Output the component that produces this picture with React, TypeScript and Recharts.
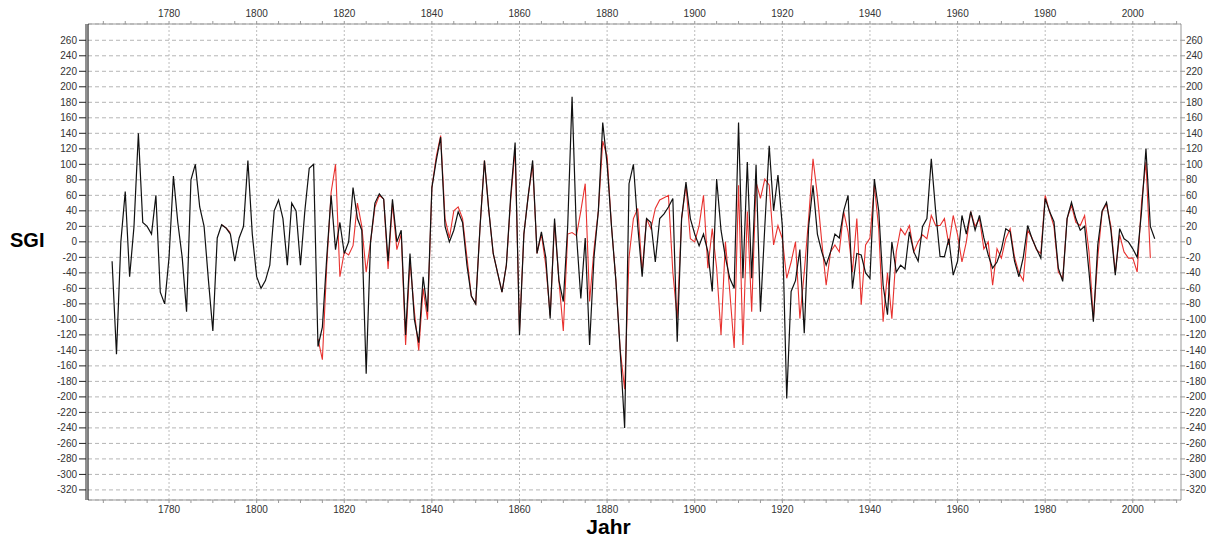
import {
  CartesianGrid,
  Line,
  LineChart,
  ReferenceLine,
  XAxis,
  YAxis,
} from 'recharts'

// years 1767..2005, one value per year
const YEARS = [
  1767, 1768, 1769, 1770, 1771, 1772, 1773, 1774, 1775, 1776, 1777, 1778, 1779, 1780, 1781, 1782, 1783, 1784, 1785, 1786,
  1787, 1788, 1789, 1790, 1791, 1792, 1793, 1794, 1795, 1796, 1797, 1798, 1799, 1800, 1801, 1802, 1803, 1804, 1805, 1806,
  1807, 1808, 1809, 1810, 1811, 1812, 1813, 1814, 1815, 1816, 1817, 1818, 1819, 1820, 1821, 1822, 1823, 1824, 1825, 1826,
  1827, 1828, 1829, 1830, 1831, 1832, 1833, 1834, 1835, 1836, 1837, 1838, 1839, 1840, 1841, 1842, 1843, 1844, 1845, 1846,
  1847, 1848, 1849, 1850, 1851, 1852, 1853, 1854, 1855, 1856, 1857, 1858, 1859, 1860, 1861, 1862, 1863, 1864, 1865, 1866,
  1867, 1868, 1869, 1870, 1871, 1872, 1873, 1874, 1875, 1876, 1877, 1878, 1879, 1880, 1881, 1882, 1883, 1884, 1885, 1886,
  1887, 1888, 1889, 1890, 1891, 1892, 1893, 1894, 1895, 1896, 1897, 1898, 1899, 1900, 1901, 1902, 1903, 1904, 1905, 1906,
  1907, 1908, 1909, 1910, 1911, 1912, 1913, 1914, 1915, 1916, 1917, 1918, 1919, 1920, 1921, 1922, 1923, 1924, 1925, 1926,
  1927, 1928, 1929, 1930, 1931, 1932, 1933, 1934, 1935, 1936, 1937, 1938, 1939, 1940, 1941, 1942, 1943, 1944, 1945, 1946,
  1947, 1948, 1949, 1950, 1951, 1952, 1953, 1954, 1955, 1956, 1957, 1958, 1959, 1960, 1961, 1962, 1963, 1964, 1965, 1966,
  1967, 1968, 1969, 1970, 1971, 1972, 1973, 1974, 1975, 1976, 1977, 1978, 1979, 1980, 1981, 1982, 1983, 1984, 1985, 1986,
  1987, 1988, 1989, 1990, 1991, 1992, 1993, 1994, 1995, 1996, 1997, 1998, 1999, 2000, 2001, 2002, 2003, 2004, 2005,
]

// black curve (long record)
const SGI_BLACK = [
  -25, -145, 0, 65, -45, 20, 140, 25, 20, 10, 60, -65, -80, -20, 85, 25, -20, -90, 80, 100,
  45, 20, -50, -115, 5, 22, 18, 10, -25, 5, 20, 105, 10, -45, -60, -50, -30, 40, 54, 30,
  -30, 50, 40, -30, 40, 95, 100, -135, -110, -20, 60, -10, 25, -15, 0, 70, 30, 15, -170, 0,
  50, 62, 55, -25, 55, 0, 15, -120, -15, -100, -130, -45, -90, 70, 105, 135, 20, 0, 15, 39,
  25, -30, -70, -80, 20, 105, 40, -15, -40, -65, -30, 60, 128, -120, 10, 60, 105, -15, 13, -20,
  -99, 30, -50, -77, 20, 187, 10, -73, 5, -133, -20, 40, 154, 100, 20, -50, -142, -240, 75, 100,
  20, -45, 30, 25, -26, 30, 36, 45, 56, -129, 30, 77, 30, 10, -5, 10, -13, -64, 81, 15,
  -20, -47, -60, 154, -47, 103, -47, 99, -90, 20, 124, 40, 86, 20, -202, -64, -50, -10, -118, 20,
  73, 10, -13, -30, -13, 10, 5, 40, 60, -60, -15, -17, -40, -47, 81, 40, -56, -94, 0, -39,
  -30, -35, 13, -13, -25, 20, 30, 107, 39, -19, -19, 4, -43, -25, 34, 10, 39, 15, 34, 5,
  -17, -34, -26, -10, 17, 13, -25, -45, -20, 21, 4, -9, -21, 56, 39, 26, -34, -51, 30, 51,
  30, 15, 20, -39, -103, -4, 40, 51, 15, -43, 17, 4, 0, -9, -20, 40, 120, 20, 4,
]

// red curve (shorter record)
const SGI_RED = [
  null, null, null, null, null, null, null, null, null, null, null, null, null, null, null, null, null, null, null, null,
  null, null, null, null, null, 22, 18, 12, null, null, null, null, null, null, null, null, null, null, null, null,
  null, null, null, null, null, null, null, -125, -152, -30, 64, 100, -45, -13, -17, -5, 50, 20, -39, 0,
  45, 60, 55, -35, 50, -10, 10, -133, -25, -90, -140, -60, -100, 70, 110, 137, 30, 5, 40, 45,
  30, -20, -70, -80, 20, 105, 40, -15, -40, -65, -30, 55, 120, -115, 10, 60, 100, -15, 10, -30,
  -95, 25, -50, -115, 10, 12, 8, 40, 75, -77, -10, 40, 130, 110, 20, -50, -140, -190, -20, 30,
  43, -39, 30, 17, 43, 54, 57, 60, -39, -99, 30, 73, 4, 0, 21, 60, -34, 17, -34, -120,
  0, -64, -137, 73, -133, 39, -90, 77, 56, 81, 73, -4, 21, 4, -47, -26, 0, -99, -39, 30,
  107, 60, 0, -56, -13, -4, -13, 39, 13, -39, 30, -81, -4, 5, 73, 17, -103, -40, -99, -13,
  17, 9, 21, -13, 0, 9, 4, 34, 21, 21, 30, -4, 34, 9, -26, 0, 39, 20, 30, -9,
  0, -56, -9, -21, 4, 17, -20, -40, -50, 15, 5, -10, -15, 60, 39, 20, -39, -47, 30, 47,
  25, 21, 34, -13, -100, -20, 39, 49, 20, -40, 9, -13, -21, -21, -39, 51, 103, -21, null,
]

const X_TICKS = [
  1765, 1770, 1775, 1780, 1785, 1790, 1795, 1800, 1805, 1810, 1815, 1820, 1825, 1830, 1835, 1840, 1845, 1850,
  1855, 1860, 1865, 1870, 1875, 1880, 1885, 1890, 1895, 1900, 1905, 1910, 1915, 1920, 1925, 1930, 1935, 1940,
  1945, 1950, 1955, 1960, 1965, 1970, 1975, 1980, 1985, 1990, 1995, 2000, 2005, 2010,
]
const GRID_YEARS = [1780, 1800, 1820, 1840, 1860, 1880, 1900, 1920, 1940, 1960, 1980, 2000]
const Y_TICKS = [
  -320, -300, -280, -260, -240, -220, -200, -180, -160, -140, -120, -100, -80, -60, -40, -20, 0,
  20, 40, 60, 80, 100, 120, 140, 160, 180, 200, 220, 240, 260,
]

const X_DOMAIN: [number, number] = [1761.5, 2011]
const Y_DOMAIN: [number, number] = [-333, 281]

const data = YEARS.map((year, i) => ({ year, black: SGI_BLACK[i], red: SGI_RED[i] }))

const tickStyle = { fontSize: 10, fill: '#333', fontFamily: '"Liberation Sans", Arial, sans-serif' }
const yearLabel = (v: number) => (v % 20 === 0 ? String(v) : '')

export default function App() {
  return (
    <div style={{ position: 'absolute', left: 0, top: 0, background: '#fff' }}>
      <LineChart
        width={1217}
        height={537}
        data={data}
        margin={{ top: 0, right: 0, bottom: 0, left: 0 }}
        style={{ fontFamily: '"Liberation Sans", Arial, sans-serif' }}
      >
        <CartesianGrid
          xAxisId="bottom"
          yAxisId="left"
          vertical={false}
          stroke="#b5b5b5"
          strokeDasharray="4 3"
        />
        {GRID_YEARS.map((yr) => (
          <ReferenceLine
            key={yr}
            x={yr}
            xAxisId="bottom"
            yAxisId="left"
            stroke="#bdbdbd"
            strokeDasharray="2 2"
          />
        ))}
        <XAxis
          xAxisId="bottom"
          dataKey="year"
          type="number"
          domain={X_DOMAIN}
          allowDataOverflow
          ticks={X_TICKS}
          tickFormatter={yearLabel}
          height={37}
          tickSize={3}
          tickMargin={3}
          stroke="#999"
          tick={tickStyle}
          label={{
            value: 'Jahr',
            position: 'insideBottom',
            offset: 3,
            dx: -26,
            style: { fontSize: 21, fontWeight: 'bold', fill: '#000' },
          }}
        />
        <XAxis
          xAxisId="top"
          dataKey="year"
          orientation="top"
          type="number"
          domain={X_DOMAIN}
          allowDataOverflow
          ticks={X_TICKS}
          tickFormatter={yearLabel}
          height={24}
          tickSize={3}
          tickMargin={4}
          stroke="#999"
          tick={tickStyle}
        />
        <YAxis
          yAxisId="inner"
          type="number"
          domain={Y_DOMAIN}
          allowDataOverflow
          width={2}
          tick={false}
          tickLine={false}
          stroke="#000"
        />
        <YAxis
          yAxisId="left"
          type="number"
          domain={Y_DOMAIN}
          allowDataOverflow
          ticks={Y_TICKS}
          interval={0}
          width={86}
          tickSize={7}
          tickMargin={2}
          stroke="#222"
          tick={tickStyle}
          label={{
            value: 'SGI',
            position: 'insideLeft',
            offset: 10,
            dy: -22,
            style: { fontSize: 20, fontWeight: 'bold', fill: '#000', textAnchor: 'start' },
          }}
        />
        <YAxis
          yAxisId="right"
          orientation="right"
          type="number"
          domain={Y_DOMAIN}
          allowDataOverflow
          ticks={Y_TICKS}
          interval={0}
          width={36}
          tickSize={4}
          tickMargin={1}
          stroke="#999"
          tick={tickStyle}
        />
        <Line
          xAxisId="top"
          yAxisId="left"
          type="linear"
          dataKey="red"
          stroke="#e8322f"
          strokeWidth={1.1}
          dot={false}
          isAnimationActive={false}
        />
        <Line
          xAxisId="bottom"
          yAxisId="left"
          type="linear"
          dataKey="black"
          stroke="#111"
          strokeWidth={1.2}
          dot={false}
          isAnimationActive={false}
        />
      </LineChart>
    </div>
  )
}
